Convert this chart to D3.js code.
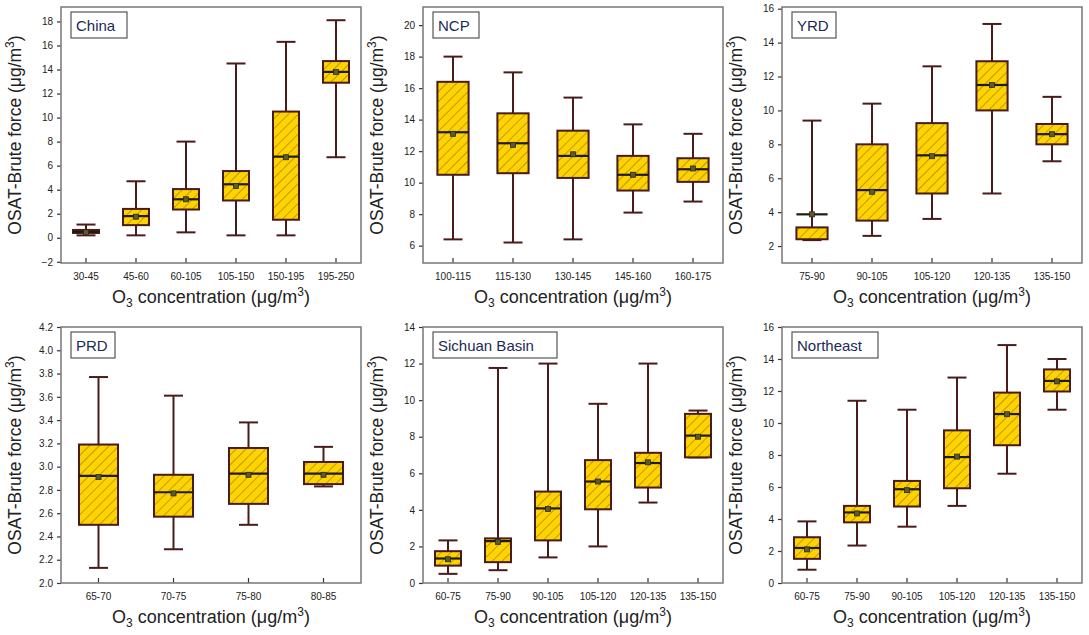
<!DOCTYPE html>
<html>
<head>
<meta charset="utf-8">
<title>OSAT boxplots</title>
<script src="https://cdn.jsdelivr.net/npm/d3@7"></script>
<style>
  body { margin: 0; background: #fff; }
  text { font-family: "Liberation Sans", Arial, sans-serif; }
</style>
</head>
<body>
<svg width="1089" height="635" id="mainsvg"></svg>
<script>
// each row: [lower whisker, Q1, median, Q3, upper whisker, mean]
const chinaCats = ['30-45', '45-60', '60-105', '105-150', '150-195', '195-250'];
const chinaStats = [
    [0.2, 0.4, 0.5, 0.65, 1.1, 0.45],
    [0.2, 1.05, 1.8, 2.4, 4.7, 1.75],
    [0.45, 2.35, 3.2, 4.05, 8.0, 3.2],
    [0.2, 3.1, 4.45, 5.55, 14.5, 4.3],
    [0.2, 1.5, 6.75, 10.5, 16.3, 6.7],
    [6.7, 12.9, 13.8, 14.7, 18.1, 13.8]
];
const ncpCats = ['100-115', '115-130', '130-145', '145-160', '160-175'];
const ncpStats = [
    [6.4, 10.5, 13.2, 16.4, 18.0, 13.1],
    [6.2, 10.6, 12.5, 14.4, 17.0, 12.4],
    [6.4, 10.3, 11.7, 13.3, 15.4, 11.8],
    [8.1, 9.5, 10.5, 11.7, 13.7, 10.5],
    [8.8, 10.05, 10.85, 11.55, 13.1, 10.9]
];
const yrdCats = ['75-90', '90-105', '105-120', '120-135', '135-150'];
const yrdStats = [
    [2.35, 2.4, 3.87, 3.1, 9.4, 3.87],
    [2.6, 3.5, 5.3, 8.0, 10.4, 5.2],
    [3.6, 5.1, 7.35, 9.25, 12.6, 7.3],
    [5.1, 10.0, 11.5, 12.9, 15.1, 11.5],
    [7.0, 8.0, 8.6, 9.2, 10.8, 8.6]
];
const prdCats = ['65-70', '70-75', '75-80', '80-85'];
const prdStats = [
    [2.13, 2.5, 2.92, 3.19, 3.77, 2.91],
    [2.29, 2.57, 2.78, 2.93, 3.61, 2.77],
    [2.5, 2.68, 2.94, 3.16, 3.38, 2.93],
    [2.83, 2.85, 2.94, 3.04, 3.17, 2.93]
];
const scbCats = ['60-75', '75-90', '90-105', '105-120', '120-135', '135-150'];
const scbStats = [
    [0.5, 0.95, 1.34, 1.74, 2.33, 1.3],
    [0.7, 1.14, 2.29, 2.44, 11.76, 2.25],
    [1.4, 2.33, 4.08, 5.0, 12.0, 4.05],
    [2.0, 4.03, 5.55, 6.72, 9.8, 5.55],
    [4.4, 5.22, 6.56, 7.12, 12.0, 6.6],
    [6.87, 6.87, 8.06, 9.25, 9.43, 8.0]
];
const neCats = ['60-75', '75-90', '90-105', '105-120', '120-135', '135-150'];
const neStats = [
    [0.83, 1.51, 2.19, 2.86, 3.85, 2.1],
    [2.34, 3.79, 4.41, 4.82, 11.39, 4.35],
    [3.52, 4.78, 5.86, 6.38, 10.83, 5.8],
    [4.82, 5.92, 7.87, 9.54, 12.84, 7.9],
    [6.83, 8.61, 10.56, 11.9, 14.87, 10.55],
    [10.83, 11.97, 12.63, 13.35, 14.0, 12.6]
];

const yTicksChina = d3.range(-2, 19, 2);
const yTicksNcp = d3.range(6, 21, 2);
const yTicksYrd = d3.range(2, 17, 2);
const yTicksPrd = d3.range(2.0, 4.21, 0.2);
const yTicksScb = d3.range(0, 15, 2);
const yTicksNe = d3.range(0, 17, 2);

const svg = d3.select('#mainsvg');
const pw = 300, ph = 256;
const colX = [61, 423, 782];
const rowY = [7, 327];

const boxColor = '#4a1b1b';

// hatch pattern
const defs = svg.append('defs');
const pat = defs.append('pattern').attr('id', 'hatch')
    .attr('patternUnits', 'userSpaceOnUse')
    .attr('width', 7).attr('height', 7)
    .attr('patternTransform', 'rotate(45)');
pat.append('rect').attr('width', 7).attr('height', 7).attr('fill', '#FFD300');
pat.append('line').attr('x1', 0).attr('y1', 0).attr('x2', 0).attr('y2', 7)
    .attr('stroke', '#7a6410').attr('stroke-width', 1);

const panels = [
    { name: 'China', cats: chinaCats, stats: chinaStats, dom: [-2.1, 19.2], ticks: yTicksChina, fmt: d3.format('d'), col: 0, row: 0, lw: 56 },
    { name: 'NCP', cats: ncpCats, stats: ncpStats, dom: [4.9, 21.15], ticks: yTicksNcp, fmt: d3.format('d'), col: 1, row: 0, lw: 46 },
    { name: 'YRD', cats: yrdCats, stats: yrdStats, dom: [1.0, 16.1], ticks: yTicksYrd, fmt: d3.format('d'), col: 2, row: 0, lw: 44 },
    { name: 'PRD', cats: prdCats, stats: prdStats, dom: [2.0, 4.2], ticks: yTicksPrd, fmt: d3.format('.1f'), col: 0, row: 1, lw: 44 },
    { name: 'Sichuan Basin', cats: scbCats, stats: scbStats, dom: [0, 14], ticks: yTicksScb, fmt: d3.format('d'), col: 1, row: 1, lw: 124 },
    { name: 'Northeast', cats: neCats, stats: neStats, dom: [0, 16], ticks: yTicksNe, fmt: d3.format('d'), col: 2, row: 1, lw: 86 }
];

panels.forEach(p => {
    const g = svg.append('g')
        .attr('transform', `translate(${colX[p.col]}, ${rowY[p.row]})`);

    const x = d3.scaleBand().domain(p.cats).range([0, pw]).paddingInner(0).paddingOuter(0);
    const y = d3.scaleLinear().domain(p.dom).range([ph, 0]);
    const bw = x.bandwidth() * 0.52;
    const cap = 19;

    // y axis
    const yAxis = g.append('g').call(d3.axisLeft(y).tickValues(p.ticks).tickFormat(p.fmt).tickSize(4).tickPadding(4));
    yAxis.select('.domain').remove();
    yAxis.selectAll('line').attr('stroke', '#333').attr('stroke-width', 1.2);
    yAxis.selectAll('text').attr('font-size', 10).attr('fill', '#222');

    // x axis
    const xAxis = g.append('g').attr('transform', `translate(0, ${ph})`)
        .call(d3.axisBottom(x).tickSize(-5).tickPadding(10));
    xAxis.select('.domain').remove();
    xAxis.selectAll('line').attr('stroke', '#333').attr('stroke-width', 1.2);
    xAxis.selectAll('text').attr('font-size', 10).attr('fill', '#222');

    const boxes = g.selectAll('.box').data(p.stats).join('g')
        .attr('class', 'box')
        .attr('transform', (d, i) => `translate(${x(p.cats[i]) + x.bandwidth() / 2}, 0)`);

    // whiskers
    boxes.append('line').attr('x1', 0).attr('x2', 0)
        .attr('y1', d => y(d[4])).attr('y2', d => y(d[0]))
        .attr('stroke', boxColor).attr('stroke-width', 2);
    boxes.append('line').attr('x1', -cap / 2).attr('x2', cap / 2)
        .attr('y1', d => y(d[4])).attr('y2', d => y(d[4]))
        .attr('stroke', boxColor).attr('stroke-width', 2);
    boxes.append('line').attr('x1', -cap / 2).attr('x2', cap / 2)
        .attr('y1', d => y(d[0])).attr('y2', d => y(d[0]))
        .attr('stroke', boxColor).attr('stroke-width', 2);

    // box
    boxes.append('rect')
        .attr('x', -bw / 2).attr('width', bw)
        .attr('y', d => y(Math.max(d[1], d[3])))
        .attr('height', d => Math.max(1, Math.abs(y(d[1]) - y(d[3]))))
        .attr('fill', 'url(#hatch)')
        .attr('stroke', boxColor).attr('stroke-width', 2);

    // median
    boxes.append('line').attr('x1', -bw / 2).attr('x2', bw / 2)
        .attr('y1', d => y(d[2])).attr('y2', d => y(d[2]))
        .attr('stroke', '#1e1a10').attr('stroke-width', 2.2);

    // mean
    boxes.append('rect')
        .attr('x', -2.5).attr('width', 5).attr('height', 5)
        .attr('y', d => y(d[5]) - 2.5)
        .attr('fill', '#5d5a2c').attr('stroke', '#2a2a14').attr('stroke-width', 0.8);

    // frame
    g.append('rect').attr('width', pw).attr('height', ph)
        .attr('fill', 'none').attr('stroke', '#777').attr('stroke-width', 1.5);

    // region label
    const lab = g.append('g').attr('transform', 'translate(10, 5)');
    lab.append('rect').attr('width', p.lw).attr('height', 26)
        .attr('fill', '#fff').attr('stroke', '#555').attr('stroke-width', 1.2);
    lab.append('text').attr('x', 5).attr('y', 19)
        .attr('font-size', 15).attr('fill', '#1c2a55').text(p.name);

    // axis titles
    const xt = g.append('text').attr('x', pw / 2).attr('y', ph + 40)
        .attr('text-anchor', 'middle').attr('font-size', 18).attr('fill', '#222');
    xt.append('tspan').text('O');
    xt.append('tspan').attr('font-size', 12).attr('dy', 4).text('3');
    xt.append('tspan').attr('dy', -4).text(' concentration (μg/m');
    xt.append('tspan').attr('font-size', 12).attr('dy', -7).text('3');
    xt.append('tspan').attr('dy', 7).text(')');

    const yt = g.append('text')
        .attr('transform', `translate(-40, ${ph / 2}) rotate(-90)`)
        .attr('text-anchor', 'middle').attr('font-size', 17.5).attr('fill', '#222');
    yt.append('tspan').text('OSAT-Brute force (μg/m');
    yt.append('tspan').attr('font-size', 12).attr('dy', -7).text('3');
    yt.append('tspan').attr('dy', 7).text(')');
});
</script>
</body>
</html>
